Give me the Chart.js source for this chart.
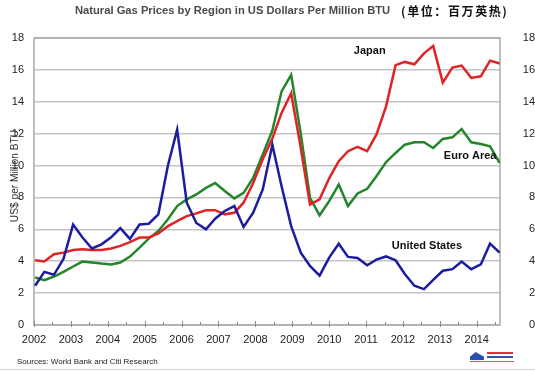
<!DOCTYPE html>
<html>
<head>
<meta charset="utf-8">
<script src="https://cdn.jsdelivr.net/npm/chart.js@4"></script>
<style>
  html, body { margin: 0; padding: 0; background: #fff; }
  #wrap { position: relative; width: 535px; height: 372px; overflow: hidden; }
  #c { position: absolute; left: 0; top: 0; }
  .title { position: absolute; top: 4px; left: 0; width: 535px; white-space: nowrap; }
  .title .en { position: absolute; left: 75px; top: 0; font: bold 11.2px "Liberation Sans", Arial, sans-serif; color: #4a4a4a; }
  .title .zh { position: absolute; left: 401px; top: -2px; font: bold 12px "Noto Sans CJK SC", sans-serif; color: #111; letter-spacing: 1.6px; }
  .src { position: absolute; left: 17px; top: 357px; font: 8px "Liberation Sans", Arial, sans-serif; color: #222; white-space: nowrap; }
  .foot { position: absolute; left: 0; top: 369px; width: 535px; height: 1px; background: #d4d4d4; }
  .logo { position: absolute; left: 470px; top: 352px; width: 14px; height: 8px; background: #2a4fb0; clip-path: polygon(40% 0, 100% 60%, 100% 100%, 0 100%, 0 60%); }
  .logo2 { position: absolute; left: 487px; top: 352px; width: 26px; height: 2px; background: #d33; }
  .logo3 { position: absolute; left: 487px; top: 356px; width: 26px; height: 2px; background: #3355bb; }
  .logo4 { position: absolute; left: 470px; top: 361px; width: 44px; height: 1px; background: #c55; }
</style>
</head>
<body>
<div id="wrap">
  <canvas id="c" width="535" height="372"></canvas>
  <div class="title"><span class="en">Natural Gas Prices by Region in US Dollars Per Million BTU</span><span class="zh">(单位：百万英热)</span></div>
  <div class="src">Sources: World Bank and Citi Research</div>
  <div class="logo"></div><div class="logo2"></div><div class="logo3"></div><div class="logo4"></div>
  <div class="foot"></div>
</div>
<script>
// ---- data ----
const periods = [
  2002.03, 2002.28, 2002.54, 2002.80, 2003.06, 2003.31, 2003.57, 2003.83, 2004.09, 2004.34,
  2004.60, 2004.86, 2005.11, 2005.37, 2005.63, 2005.88, 2006.14, 2006.40, 2006.66, 2006.91,
  2007.17, 2007.43, 2007.68, 2007.94, 2008.20, 2008.46, 2008.71, 2008.97, 2009.23, 2009.48,
  2009.74, 2010.00, 2010.26, 2010.51, 2010.77, 2011.03, 2011.28, 2011.54, 2011.80, 2012.05,
  2012.31, 2012.57, 2012.82, 2013.08, 2013.34, 2013.59, 2013.85, 2014.11, 2014.36, 2014.62
];
const unitedStates = [
  2.46, 3.33, 3.15, 4.15, 6.3, 5.5, 4.8, 5.06, 5.5, 6.08,
  5.4, 6.3, 6.35, 6.94, 10.0, 12.25, 7.67, 6.4, 6.0, 6.67,
  7.15, 7.46, 6.15, 7.04, 8.5, 11.3, 8.7, 6.2, 4.54, 3.7,
  3.1, 4.23, 5.1, 4.27, 4.2, 3.75, 4.1, 4.3, 4.06, 3.2,
  2.46, 2.25, 2.83, 3.4, 3.5, 3.98, 3.5, 3.8, 5.1, 4.54
];
const japan = [
  4.06, 3.98, 4.44, 4.54, 4.7, 4.75, 4.7, 4.7, 4.8, 4.96,
  5.2, 5.48, 5.48, 5.75, 6.2, 6.52, 6.83, 7.0, 7.2, 7.2,
  6.94, 7.04, 7.67, 8.9, 10.4, 11.7, 13.3, 14.54, 11.1, 7.56,
  7.88, 9.2, 10.27, 10.9, 11.17, 10.9, 11.94, 13.7, 16.3, 16.5,
  16.35, 17.04, 17.5, 15.2, 16.15, 16.27, 15.5, 15.6, 16.58, 16.4
];
const euroArea = [
  2.98, 2.81, 3.04, 3.33, 3.67, 3.98, 3.92, 3.85, 3.8, 3.92,
  4.29, 4.85, 5.42, 5.9, 6.63, 7.46, 7.88, 8.19, 8.6, 8.9,
  8.4, 7.94, 8.29, 9.23, 10.69, 12.2, 14.65, 15.69, 12.0, 7.98,
  6.88, 7.77, 8.81, 7.46, 8.25, 8.54, 9.33, 10.21, 10.79, 11.31,
  11.46, 11.46, 11.1, 11.67, 11.77, 12.29, 11.46, 11.35, 11.21, 10.17
];
const yearTicks = [2002, 2003, 2004, 2005, 2006, 2007, 2008, 2009, 2010, 2011, 2012, 2013, 2014];
const labelNames = ["Japan", "Euro Area", "United States"];
const labelX = [2011.1, 2013.82, 2012.65];
const labelY = [17.2, 10.6, 4.95];
const yTitle = "US$ per Million BTU";

// ---- helpers ----
const toPoints = arr => periods.map((x, i) => ({ x: x, y: arr[i] }));
const FONT = '"Liberation Sans", Arial, sans-serif';

const decorPlugin = {
  id: 'decor',
  beforeDatasetsDraw(chart) {
    const { ctx, chartArea: a, scales } = chart;
    ctx.save();
    ctx.strokeStyle = '#a9a9a9';
    ctx.lineWidth = 1.5;
    ctx.strokeRect(a.left, a.top, a.right - a.left, a.bottom - a.top);
    // x tick marks (years and half years)
    ctx.strokeStyle = '#8a8a8a';
    ctx.lineWidth = 1;
    for (let i = 0; i < yearTicks.length; i++) {
      const px = Math.round(scales.x.getPixelForValue(yearTicks[i])) + 0.5;
      ctx.beginPath(); ctx.moveTo(px, a.bottom - 4); ctx.lineTo(px, a.bottom + 2); ctx.stroke();
      const hx = Math.round(scales.x.getPixelForValue(yearTicks[i] + 0.5)) + 0.5;
      if (hx < a.right) { ctx.beginPath(); ctx.moveTo(hx, a.bottom - 3); ctx.lineTo(hx, a.bottom); ctx.stroke(); }
    }
    // y-axis title
    ctx.translate(15, 176);
    ctx.rotate(-Math.PI / 2);
    ctx.font = '10.2px ' + FONT;
    ctx.fillStyle = '#333';
    ctx.textAlign = 'center';
    ctx.textBaseline = 'middle';
    ctx.fillText(yTitle, 0, 0);
    ctx.restore();
  },
  afterDatasetsDraw(chart) {
    const { ctx, scales } = chart;
    ctx.save();
    ctx.font = 'bold 11px ' + FONT;
    ctx.fillStyle = '#111';
    ctx.textAlign = 'center';
    ctx.textBaseline = 'middle';
    for (let i = 0; i < labelNames.length; i++) {
      ctx.fillText(labelNames[i], scales.x.getPixelForValue(labelX[i]), scales.y.getPixelForValue(labelY[i]));
    }
    ctx.restore();
  }
};

new Chart(document.getElementById('c'), {
  type: 'line',
  data: {
    datasets: [
      { label: 'United States', data: toPoints(unitedStates), borderColor: '#1c1c9e', borderWidth: 2.5, pointRadius: 0, tension: 0 },
      { label: 'Japan', data: toPoints(japan), borderColor: '#de2424', borderWidth: 2.5, pointRadius: 0, tension: 0 },
      { label: 'Euro Area', data: toPoints(euroArea), borderColor: '#23862a', borderWidth: 2.5, pointRadius: 0, tension: 0 }
    ]
  },
  options: {
    responsive: false,
    animation: false,
    devicePixelRatio: 1,
    layout: { padding: { top: 38, left: 0, right: 0, bottom: 0 } },
    plugins: { legend: { display: false }, tooltip: { enabled: false }, title: { display: false } },
    scales: {
      x: {
        type: 'linear',
        min: 2002,
        max: 2014.63,
        afterBuildTicks: s => { s.ticks = yearTicks.map(v => ({ value: v })); },
        afterFit: s => { s.height = 47; },
        grid: { display: false, drawTicks: false },
        border: { display: false },
        ticks: { padding: 8, color: '#222', font: { family: FONT, size: 11 }, maxRotation: 0, autoSkip: false, callback: v => String(v) }
      },
      y: {
        position: 'left',
        min: 0, max: 18,
        afterFit: s => { s.width = 34; },
        ticks: { stepSize: 2, padding: 10, color: '#222', font: { family: FONT, size: 11 } },
        grid: { color: '#c4c4c4', lineWidth: 1.5, drawTicks: false },
        border: { display: false }
      },
      y2: {
        position: 'right',
        min: 0, max: 18,
        afterFit: s => { s.width = 35; },
        ticks: { stepSize: 2, padding: 13, crossAlign: 'far', color: '#222', font: { family: FONT, size: 11 } },
        grid: { display: false, drawTicks: false },
        border: { display: false }
      }
    }
  },
  plugins: [decorPlugin]
});
</script>
</body>
</html>
